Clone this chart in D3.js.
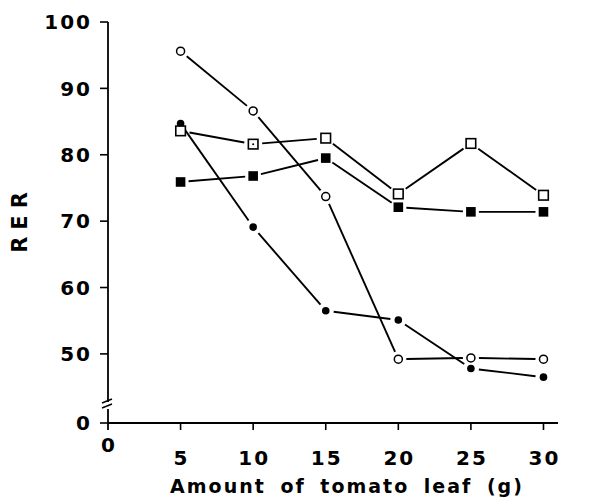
<!DOCTYPE html>
<html>
<head>
<meta charset="utf-8">
<script src="https://cdn.jsdelivr.net/npm/d3@7"></script>
<style>
  body { margin: 0; background: #fff; }
  text { font-family: "DejaVu Sans", sans-serif; font-weight: 700; fill: #000; }
</style>
</head>
<body>
<div id="chart"></div>
<script>
// amount of tomato leaf (g)
const amounts = [5, 10, 15, 20, 25, 30];
const openCircles = [95.6, 86.6, 73.7, 49.2, 49.4, 49.2];
const filledCircles = [84.7, 69.1, 56.5, 55.1, 47.8, 46.5];
const openSquares = [83.6, 81.6, 82.5, 74.1, 81.7, 73.9];
const filledSquares = [75.9, 76.8, 79.5, 72.1, 71.4, 71.4];

const xTicks = [0, 5, 10, 15, 20, 25, 30];
const yTicks = [0, 50, 60, 70, 80, 90, 100];

const width = 616, height = 501;

const svg = d3.select('#chart').append('svg')
  .attr('width', width)
  .attr('height', height);

const x = d3.scaleLinear().domain([0, 31]).range([108, 558]);
// broken axis: 42-100 is linear, 0 sits just below the break
const y = d3.scaleLinear().domain([0, 42, 100]).range([423, 407, 22]);

// y axis, with break between 0 and 50
const yAxis = svg.append('g');
yAxis.append('line')
  .attr('x1', x(0)).attr('x2', x(0))
  .attr('y1', y(100)).attr('y2', 402)
  .attr('stroke', '#000').attr('stroke-width', 1.8);
yAxis.append('line')
  .attr('x1', x(0)).attr('x2', x(0))
  .attr('y1', 409).attr('y2', 430)
  .attr('stroke', '#000').attr('stroke-width', 1.8);
[401, 406].forEach(yy => {
  yAxis.append('line')
    .attr('x1', x(0) - 6).attr('x2', x(0) + 4)
    .attr('y1', yy + 2).attr('y2', yy - 2)
    .attr('stroke', '#000').attr('stroke-width', 1.5);
});
yAxis.selectAll('line.tick').data(yTicks).enter().append('line')
  .attr('class', 'tick')
  .attr('x1', x(0) - 8).attr('x2', x(0))
  .attr('y1', d => y(d)).attr('y2', d => y(d))
  .attr('stroke', '#000').attr('stroke-width', 1.6);
yAxis.selectAll('text').data(yTicks).enter().append('text')
  .attr('x', x(0) - 16)
  .attr('y', d => y(d))
  .attr('dy', '0.36em')
  .attr('text-anchor', 'end')
  .attr('font-size', 20)
  .attr('letter-spacing', 2)
  .text(d => d);

// x axis
const xAxis = svg.append('g');
xAxis.append('line')
  .attr('x1', x(0)).attr('x2', x(31))
  .attr('y1', y(0)).attr('y2', y(0))
  .attr('stroke', '#000').attr('stroke-width', 1.8);
xAxis.selectAll('line.tick').data(xTicks.slice(1)).enter().append('line')
  .attr('class', 'tick')
  .attr('x1', d => x(d)).attr('x2', d => x(d))
  .attr('y1', y(0)).attr('y2', y(0) + 7)
  .attr('stroke', '#000').attr('stroke-width', 1.6);
xAxis.selectAll('text').data(xTicks).enter().append('text')
  .attr('x', d => x(d) + 1)
  .attr('y', d => d === 0 ? 452 : 465)
  .attr('text-anchor', 'middle')
  .attr('font-size', 20)
  .attr('letter-spacing', 2)
  .text(d => d);

svg.append('text')
  .attr('x', 347).attr('y', 493)
  .attr('text-anchor', 'middle')
  .attr('font-size', 19)
  .attr('letter-spacing', 2)
  .attr('word-spacing', 6)
  .text('Amount of tomato leaf (g)');

svg.append('text')
  .attr('transform', 'translate(27,222) rotate(-90)')
  .attr('text-anchor', 'middle')
  .attr('font-size', 21)
  .attr('letter-spacing', 7)
  .attr('dx', 3)
  .text('RER');

// lines drawn as segments that stop short of the markers
function drawSeries(values, gap) {
  const pts = amounts.map((a, i) => [x(a), y(values[i])]);
  const g = svg.append('g');
  for (let i = 0; i < pts.length - 1; i++) {
    const [x1, y1] = pts[i], [x2, y2] = pts[i + 1];
    const len = Math.hypot(x2 - x1, y2 - y1);
    const ux = (x2 - x1) / len, uy = (y2 - y1) / len;
    g.append('line')
      .attr('x1', x1 + ux * gap).attr('y1', y1 + uy * gap)
      .attr('x2', x2 - ux * gap).attr('y2', y2 - uy * gap)
      .attr('stroke', '#000').attr('stroke-width', 1.9);
  }
  return pts;
}

const pOpenC = drawSeries(openCircles, 8);
const pFillC = drawSeries(filledCircles, 8);
const pOpenS = drawSeries(openSquares, 9);
const pFillS = drawSeries(filledSquares, 8);

svg.append('g').selectAll('circle').data(pFillC).enter().append('circle')
  .attr('cx', d => d[0]).attr('cy', d => d[1]).attr('r', 3.8)
  .attr('fill', '#000');

svg.append('g').selectAll('rect').data(pOpenS).enter().append('rect')
  .attr('x', d => d[0] - 4.8).attr('y', d => d[1] - 4.8)
  .attr('width', 9.6).attr('height', 9.6)
  .attr('fill', '#fff').attr('stroke', '#000').attr('stroke-width', 1.6);
// small dot inside the square at 10 g
svg.append('circle')
  .attr('cx', pOpenS[1][0]).attr('cy', pOpenS[1][1]).attr('r', 1)
  .attr('fill', '#000');

svg.append('g').selectAll('rect').data(pFillS).enter().append('rect')
  .attr('x', d => d[0] - 4.8).attr('y', d => d[1] - 4.8)
  .attr('width', 9.6).attr('height', 9.6)
  .attr('fill', '#000');

svg.append('g').selectAll('circle').data(pOpenC).enter().append('circle')
  .attr('cx', d => d[0]).attr('cy', d => d[1]).attr('r', 4)
  .attr('fill', '#fff').attr('stroke', '#000').attr('stroke-width', 1.5);
</script>
</body>
</html>
